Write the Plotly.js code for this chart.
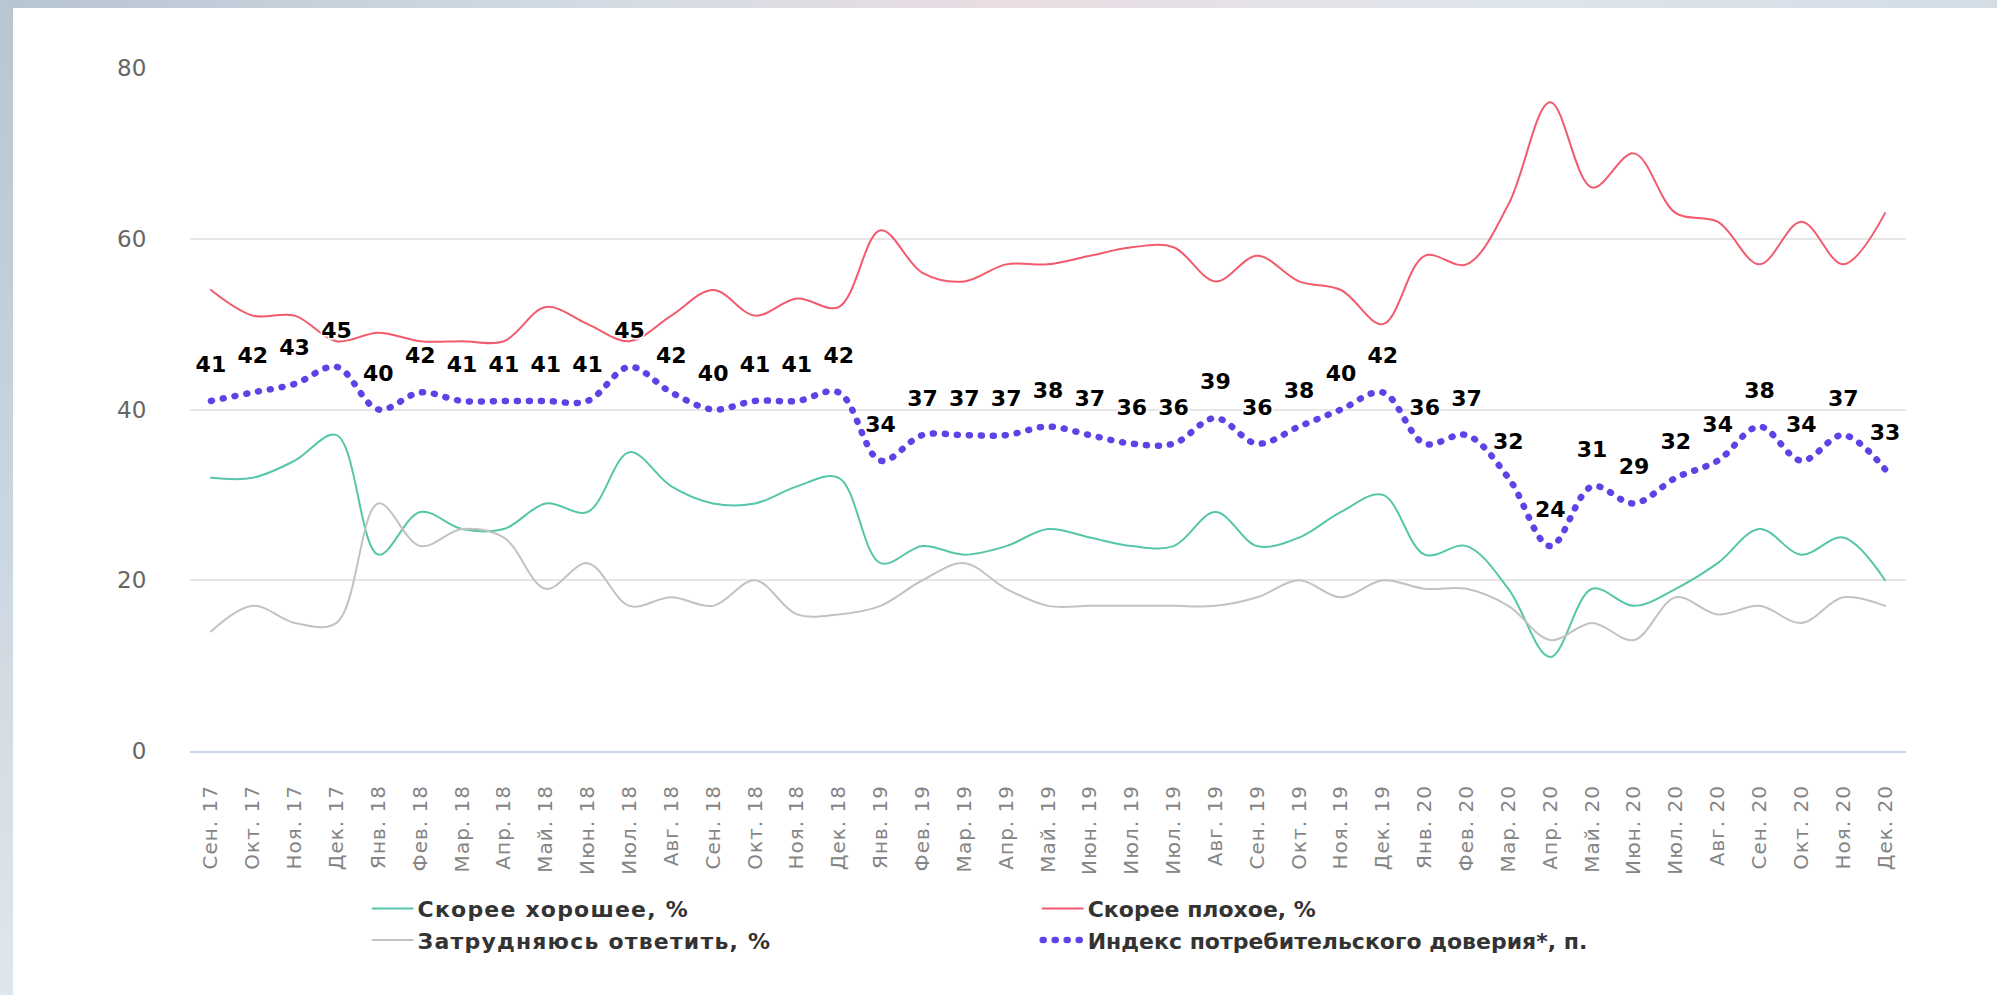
<!DOCTYPE html>
<html>
<head>
<meta charset="utf-8">
<script src="https://cdn.plot.ly/plotly-3.0.1.min.js"></script>
<style>
html,body{margin:0;padding:0;width:1997px;height:995px;overflow:hidden;}
body{background:linear-gradient(90deg,#b7c5d1 0%,#d3dce4 30%,#eadde3 50%,#dfe6ec 75%,#d3dde6 100%);}
#side{position:absolute;left:0;top:0;width:13px;height:995px;background:linear-gradient(180deg,#b8c6d2 0%,#c9d5df 50%,#dfe7ee 100%);}
#panel{position:absolute;left:13px;top:8px;right:0;bottom:0;background:#fff;}
#chart{position:absolute;left:0;top:0;width:1997px;height:995px;}
.js-line,.legendlines path{stroke-linecap:round;}
.legendtext{letter-spacing:1.2px;}
.xtick text{letter-spacing:1px;}
.textpoint text{paint-order:stroke;stroke:#fff;stroke-width:3px;stroke-linejoin:round;}
</style>
</head>
<body>
<div id="side"></div>
<div id="panel"></div>
<div id="chart"></div>
<script>
const months = ["Сен. 17","Окт. 17","Ноя. 17","Дек. 17",
  "Янв. 18","Фев. 18","Мар. 18","Апр. 18","Май. 18","Июн. 18","Июл. 18","Авг. 18","Сен. 18","Окт. 18","Ноя. 18","Дек. 18",
  "Янв. 19","Фев. 19","Мар. 19","Апр. 19","Май. 19","Июн. 19","Июл. 19","Июл. 19","Авг. 19","Сен. 19","Окт. 19","Ноя. 19","Дек. 19",
  "Янв. 20","Фев. 20","Мар. 20","Апр. 20","Май. 20","Июн. 20","Июл. 20","Авг. 20","Сен. 20","Окт. 20","Ноя. 20","Дек. 20"];
const good  = [32,32,34,37, 23,28,26,26,29,28,35,31,29,29,31,32, 22,24,23,24,26,25,24,24,28,24,25,28,30, 23,24,19,11,19,17,19,22,26,23,25,20];
const bad   = [54,51,51,48, 49,48,48,48,52,50,48,51,54,51,53,52, 61,56,55,57,57,58,59,59,55,58,55,54,50, 58,57,64,76,66,70,63,62,57,62,57,63];
const hard  = [14,17,15,15, 29,24,26,25,19,22,17,18,17,20,16,16, 17,20,22,19,17,17,17,17,17,18,20,18,20, 19,19,17,13,15,13,18,16,17,15,18,17];
const index = [41,42,43,45, 40,42,41,41,41,41,45,42,40,41,41,42, 34,37,37,37,38,37,36,36,39,36,38,40,42, 36,37,32,24,31,29,32,34,38,34,37,33];
const names = ["Скорее хорошее, %","Скорее плохое, %","Затрудняюсь ответить, %","Индекс потребительского доверия*, п."];
const yTicks = [0,20,40,60,80];

const xs = months.map((m, i) => i);

const traces = [
  {x: xs, y: good, name: names[0], type: 'scatter', mode: 'lines', legend: 'legend',
   line: {color: '#55c6a9', width: 2, shape: 'spline', smoothing: 1}},
  {x: xs, y: bad, name: names[1], type: 'scatter', mode: 'lines', legend: 'legend2',
   line: {color: '#f25a6e', width: 2, shape: 'spline', smoothing: 1}},
  {x: xs, y: hard, name: names[2], type: 'scatter', mode: 'lines', legend: 'legend',
   line: {color: '#c2c2c2', width: 2, shape: 'spline', smoothing: 1}},
  {x: xs, y: index, name: names[3], type: 'scatter', mode: 'lines+markers+text', legend: 'legend2',
   line: {color: '#5b44e6', width: 6.5, dash: '1px,11px', shape: 'spline', smoothing: 1},
   marker: {size: 36, color: 'rgba(0,0,0,0)'},
   text: index.map(String), textposition: 'top center',
   textfont: {family: 'DejaVu Sans', size: 22, color: '#000', weight: 'bold'}}
];

const legendFont = {family: 'DejaVu Sans', size: 22, color: '#333', weight: 'bold'};

const layout = {
  width: 1997, height: 995,
  margin: {l: 190, r: 91, t: 68, b: 244},
  paper_bgcolor: 'rgba(0,0,0,0)', plot_bgcolor: 'rgba(0,0,0,0)',
  showlegend: true,
  xaxis: {
    range: [-0.5, months.length - 0.5],
    tickvals: xs, ticktext: months, tickangle: -90,
    ticks: 'outside', ticklen: 24, tickcolor: 'rgba(0,0,0,0)',
    showline: true, linecolor: '#ccd6eb', linewidth: 2,
    showgrid: false, zeroline: false,
    tickfont: {family: 'DejaVu Sans', size: 20, color: '#858585'}
  },
  yaxis: {
    range: [0, 80], tickvals: yTicks,
    gridcolor: '#e6e6e6', gridwidth: 2, zeroline: false,
    ticks: 'outside', ticklen: 38, tickcolor: 'rgba(0,0,0,0)',
    tickfont: {family: 'DejaVu Sans', size: 23, color: '#666'}
  },
  legend: {x: 0.1035, xanchor: 'left', y: -0.2, yanchor: 'top', orientation: 'v',
    itemwidth: 40, bgcolor: 'rgba(0,0,0,0)', font: legendFont},
  legend2: {x: 0.494, xanchor: 'left', y: -0.2, yanchor: 'top', orientation: 'v',
    itemwidth: 40, bgcolor: 'rgba(0,0,0,0)', font: legendFont}
};

Plotly.newPlot('chart', traces, layout, {staticPlot: true, displayModeBar: false});
</script>
</body>
</html>
